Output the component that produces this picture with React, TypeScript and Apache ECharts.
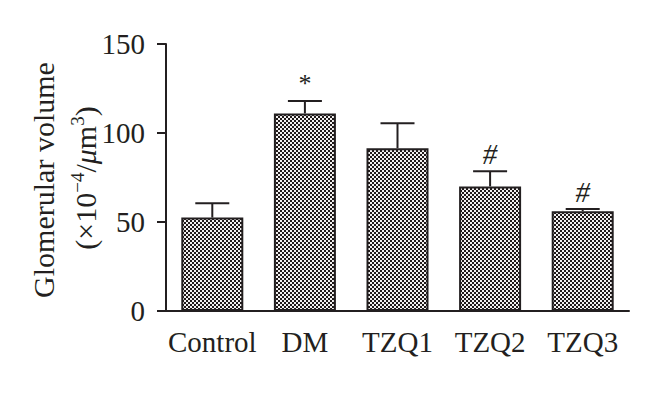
import React, { useEffect, useRef } from "react";
import * as echarts from "echarts";

const categories = ["Control", "DM", "TZQ1", "TZQ2", "TZQ3"];
const means = [52.5, 111, 91.5, 70, 56];
const errTops = [60.5, 118, 105.5, 78.5, 57.3];
const marks = ["", "*", "", "#", "#"];
const yTicks = [0, 50, 100, 150];

const FONT = "'Liberation Serif', 'DejaVu Serif', serif";
const INK = "#231f20";

function makePattern(): HTMLCanvasElement {
  const c = document.createElement("canvas");
  c.width = 4;
  c.height = 4;
  const ctx = c.getContext("2d")!;
  ctx.fillStyle = "#1f1919";
  ctx.fillRect(0, 0, 4, 4);
  ctx.fillStyle = "#f2f0f0";
  ctx.fillRect(0, 0, 2, 2);
  ctx.fillRect(2, 2, 2, 2);
  return c;
}

export default function App() {
  const ref = useRef<HTMLDivElement>(null);
  useEffect(() => {
    if (!ref.current) return;
    const chart = echarts.init(ref.current, undefined, { renderer: "svg" });
    const pattern = makePattern();
    const errData = categories.map((_, i) => [i, means[i], errTops[i]]);
    chart.setOption({
      animation: false,
      grid: { left: 166, right: 31, top: 44, bottom: 82 },
      xAxis: {
        type: "category",
        data: categories,
        axisLine: { lineStyle: { color: INK, width: 2 } },
        axisTick: { alignWithLabel: true, length: 10, lineStyle: { color: INK, width: 2 } },
        axisLabel: { color: INK, fontFamily: FONT, fontSize: 29, margin: 16, interval: 0 },
      },
      yAxis: {
        type: "value",
        min: yTicks[0],
        max: yTicks[yTicks.length - 1],
        interval: 50,
        axisLine: { show: true, lineStyle: { color: INK, width: 2 } },
        axisTick: { show: true, length: 9, lineStyle: { color: INK, width: 2 } },
        axisLabel: { color: INK, fontFamily: FONT, fontSize: 29, margin: 21 },
        splitLine: { show: false },
      },
      graphic: [
        {
          type: "text",
          x: 43,
          y: 180,
          rotation: Math.PI / 2,
          style: {
            text: "Glomerular volume",
            fontFamily: FONT,
            fontSize: 30,
            fill: INK,
            align: "center",
            verticalAlign: "middle",
          },
        },
        {
          type: "text",
          x: 85,
          y: 178,
          rotation: Math.PI / 2,
          style: {
            text: "(×10{sup|−4}/{it|μ}m{sup|3})",
            fontFamily: FONT,
            fontSize: 30,
            fill: INK,
            align: "center",
            verticalAlign: "middle",
            rich: {
              sup: { fontFamily: FONT, fontSize: 19, verticalAlign: "top", fill: INK, padding: [0, 0, 15, 0] },
              it: { fontFamily: FONT, fontSize: 30, fontStyle: "italic", fill: INK },
            },
          },
        },
      ],
      series: [
        {
          type: "bar",
          data: means,
          barWidth: 62,
          itemStyle: {
            color: { image: pattern, repeat: "repeat" },
            borderColor: INK,
            borderWidth: 2,
          },
          z: 2,
        },
        {
          type: "custom",
          data: errData,
          z: 3,
          renderItem: (params: any, api: any) => {
            const i = api.value(0);
            const lo = api.coord([i, api.value(1)]);
            const hi = api.coord([i, api.value(2)]);
            const half = 17;
            const children: any[] = [
              {
                type: "line",
                shape: { x1: hi[0], y1: lo[1], x2: hi[0], y2: hi[1] },
                style: { stroke: INK, lineWidth: 2 },
              },
              {
                type: "line",
                shape: { x1: hi[0] - half, y1: hi[1], x2: hi[0] + half, y2: hi[1] },
                style: { stroke: INK, lineWidth: 2 },
              },
            ];
            const m = marks[params.dataIndex];
            if (m) {
              const star = m === "*";
              children.push({
                type: "text",
                x: hi[0],
                y: hi[1] - (star ? 4 : 3),
                style: {
                  text: m,
                  fontFamily: FONT,
                  fontSize: star ? 26 : 29,
                  fontStyle: star ? "normal" : "italic",
                  fill: INK,
                  align: "center",
                  verticalAlign: "bottom",
                },
              });
            }
            return { type: "group", children };
          },
        },
      ],
    });
    return () => chart.dispose();
  }, []);
  return <div ref={ref} style={{ width: 660, height: 393, margin: -8 }} />;
}
